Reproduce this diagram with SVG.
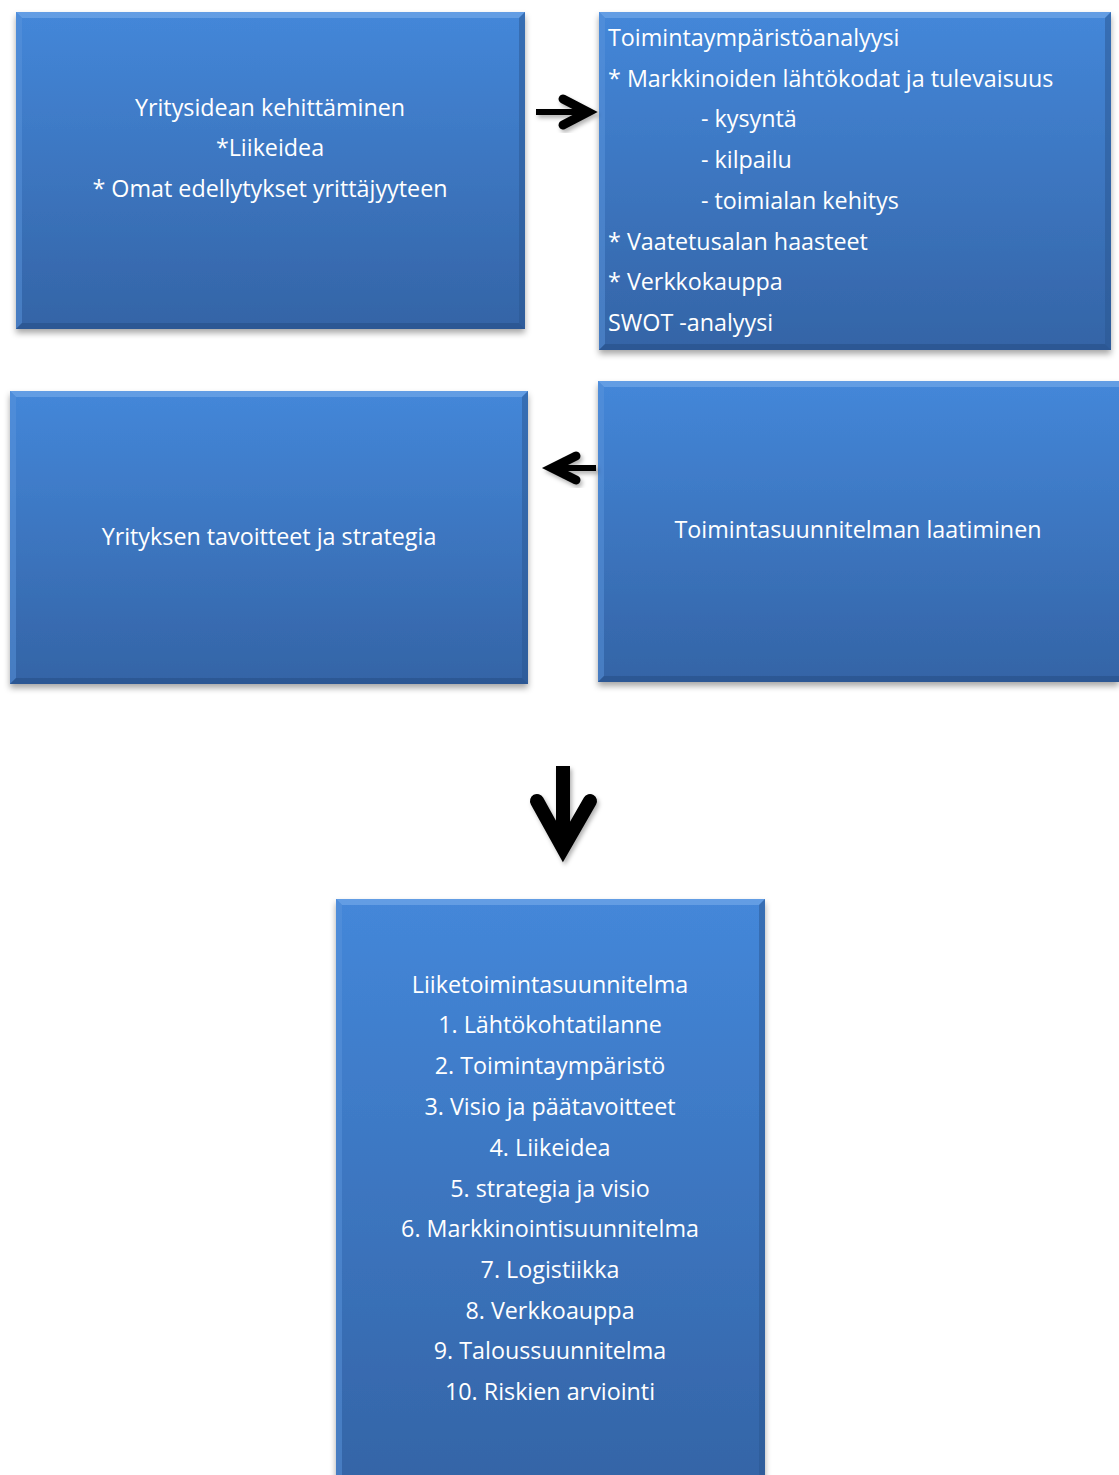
<svg xmlns="http://www.w3.org/2000/svg" width="1119" height="1475" viewBox="0 0 1119 1475">
<style>
.t{font-family:"Open Sans","Liberation Sans",sans-serif;font-size:23.3px;fill:#ffffff}
.c{text-anchor:middle}
.ar{fill:none;stroke:#000;stroke-linecap:round;stroke-linejoin:miter}
</style>
<defs>
<linearGradient id="g" x1="0" y1="0" x2="0" y2="1">
<stop offset="0" stop-color="#4487d9"/>
<stop offset="1" stop-color="#3464a6"/>
</linearGradient>
<filter id="sh" x="-5%" y="-5%" width="110%" height="115%">
<feDropShadow dx="0" dy="4" stdDeviation="3" flood-color="#000" flood-opacity="0.35"/>
</filter>
<filter id="ash" x="-30%" y="-30%" width="160%" height="160%">
<feDropShadow dx="2" dy="3" stdDeviation="2" flood-color="#000" flood-opacity="0.3"/>
</filter>
</defs>

<g id="box1">
<rect x="16" y="12" width="509" height="317" fill="url(#g)" filter="url(#sh)"/>
<polygon points="16,12 525,12 519,18 22,18" fill="#6aa2e6" opacity="0.8"/>
<polygon points="16,12 22,18 22,323 16,329" fill="#5a93dc" opacity="0.5"/>
<polygon points="525,12 525,329 519,323 519,18" fill="#2a5590" opacity="0.5"/>
<polygon points="16,329 525,329 519,323 22,323" fill="#244c82" opacity="0.5"/>
<text class="t c" x="270" y="116">Yritysidean kehittäminen</text>
<text class="t c" x="270" y="156">*Liikeidea</text>
<text class="t c" x="270" y="197">* Omat edellytykset yrittäjyyteen</text>
</g>

<g id="box2">
<rect x="599" y="12" width="512" height="338" fill="url(#g)" filter="url(#sh)"/>
<polygon points="599,12 1111,12 1105,18 605,18" fill="#6aa2e6" opacity="0.8"/>
<polygon points="599,12 605,18 605,344 599,350" fill="#5a93dc" opacity="0.5"/>
<polygon points="1111,12 1111,350 1105,344 1105,18" fill="#2a5590" opacity="0.5"/>
<polygon points="599,350 1111,350 1105,344 605,344" fill="#244c82" opacity="0.5"/>
<text class="t" x="608" y="46">Toimintaympäristöanalyysi</text>
<text class="t" x="608" y="87">* Markkinoiden lähtökodat ja tulevaisuus</text>
<text class="t" x="701" y="127">- kysyntä</text>
<text class="t" x="701" y="168">- kilpailu</text>
<text class="t" x="701" y="209">- toimialan kehitys</text>
<text class="t" x="608" y="250">* Vaatetusalan haasteet</text>
<text class="t" x="608" y="290">* Verkkokauppa</text>
<text class="t" x="608" y="331">SWOT -analyysi</text>
</g>

<g id="box3">
<rect x="10" y="391" width="518" height="293" fill="url(#g)" filter="url(#sh)"/>
<polygon points="10,391 528,391 522,397 16,397" fill="#6aa2e6" opacity="0.8"/>
<polygon points="10,391 16,397 16,678 10,684" fill="#5a93dc" opacity="0.5"/>
<polygon points="528,391 528,684 522,678 522,397" fill="#2a5590" opacity="0.5"/>
<polygon points="10,684 528,684 522,678 16,678" fill="#244c82" opacity="0.5"/>
<text class="t c" x="269" y="545">Yrityksen tavoitteet ja strategia</text>
</g>

<g id="box4">
<rect x="598" y="381" width="521" height="301" fill="url(#g)" filter="url(#sh)"/>
<polygon points="598,381 1119,381 1119,387 604,387" fill="#6aa2e6" opacity="0.8"/>
<polygon points="598,381 604,387 604,676 598,682" fill="#5a93dc" opacity="0.5"/>
<polygon points="598,682 1119,682 1119,676 604,676" fill="#244c82" opacity="0.5"/>
<text class="t c" x="858" y="538">Toimintasuunnitelman laatiminen</text>
</g>

<g id="box5">
<rect x="336" y="899" width="429" height="590" fill="url(#g)" filter="url(#sh)"/>
<polygon points="336,899 765,899 759,905 342,905" fill="#6aa2e6" opacity="0.8"/>
<polygon points="336,899 342,905 342,1475 336,1475" fill="#5a93dc" opacity="0.5"/>
<polygon points="765,899 765,1475 759,1475 759,905" fill="#2a5590" opacity="0.5"/>
<text class="t c" x="550" y="993">Liiketoimintasuunnitelma</text>
<text class="t c" x="550" y="1033">1. Lähtökohtatilanne</text>
<text class="t c" x="550" y="1074">2. Toimintaympäristö</text>
<text class="t c" x="550" y="1115">3. Visio ja päätavoitteet</text>
<text class="t c" x="550" y="1156">4. Liikeidea</text>
<text class="t c" x="550" y="1197">5. strategia ja visio</text>
<text class="t c" x="550" y="1237">6. Markkinointisuunnitelma</text>
<text class="t c" x="550" y="1278">7. Logistiikka</text>
<text class="t c" x="550" y="1319">8. Verkkoauppa</text>
<text class="t c" x="550" y="1359">9. Taloussuunnitelma</text>
<text class="t c" x="550" y="1400">10. Riskien arviointi</text>
</g>

<g id="connectors">
<g filter="url(#ash)">
<line x1="536" y1="112" x2="584" y2="112" stroke="#000" stroke-width="6"/>
<polyline class="ar" points="563,99 588,112 563,125" stroke-width="9"/>
</g>
<g filter="url(#ash)">
<line x1="596" y1="468" x2="555" y2="468" stroke="#000" stroke-width="6"/>
<polyline class="ar" points="576,456 552,468 576,480" stroke-width="9"/>
</g>
<g filter="url(#ash)">
<line x1="563" y1="766" x2="563" y2="842" stroke="#000" stroke-width="14"/>
<polyline class="ar" points="537,801 563,848 590,801" stroke-width="14"/>
</g>
</g>
</svg>
